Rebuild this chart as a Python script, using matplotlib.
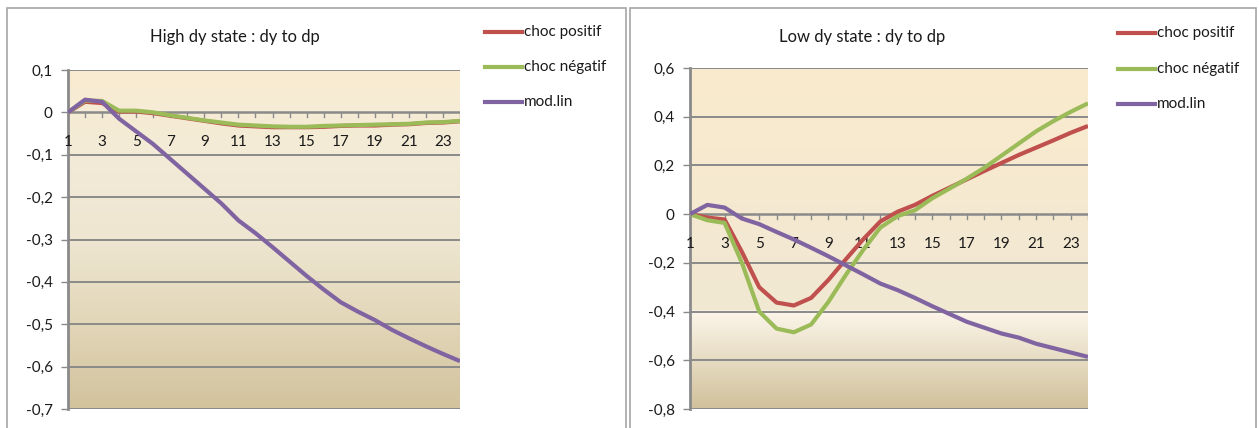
import matplotlib
matplotlib.use("Agg")
import matplotlib.pyplot as plt
import numpy as np
from matplotlib.colors import LinearSegmentedColormap
from matplotlib.patches import Rectangle
from matplotlib.lines import Line2D

plt.rcParams['font.family'] = ['Lato', 'DejaVu Sans']

periods = list(range(1, 25))

high_pos = [0, 0.025, 0.022, 0.002, 0.002, -0.002, -0.008, -0.014, -0.02, -0.026, -0.031, -0.033,
            -0.035, -0.035, -0.035, -0.034, -0.032, -0.031, -0.031, -0.029, -0.028, -0.025, -0.024, -0.021]
high_neg = [0, 0.028, 0.027, 0.004, 0.004, 0.0, -0.007, -0.013, -0.019, -0.024, -0.029, -0.031,
            -0.033, -0.034, -0.034, -0.032, -0.031, -0.030, -0.029, -0.028, -0.027, -0.024, -0.023, -0.020]
high_lin = [0, 0.03, 0.025, -0.015, -0.045, -0.075, -0.11, -0.145, -0.18, -0.215, -0.255, -0.285,
            -0.318, -0.352, -0.386, -0.418, -0.448, -0.47, -0.49, -0.513, -0.533, -0.552, -0.57, -0.587]

low_pos = [0, -0.014, -0.022, -0.155, -0.30, -0.363, -0.375, -0.344, -0.27, -0.186, -0.104, -0.03,
           0.01, 0.038, 0.075, 0.109, 0.143, 0.177, 0.21, 0.243, 0.273, 0.303, 0.334, 0.362]
low_neg = [0, -0.025, -0.036, -0.2, -0.40, -0.47, -0.485, -0.453, -0.36, -0.25, -0.148, -0.055,
           -0.008, 0.016, 0.065, 0.105, 0.146, 0.19, 0.24, 0.29, 0.34, 0.382, 0.42, 0.455]
low_lin = [0, 0.038, 0.027, -0.018, -0.041, -0.073, -0.104, -0.138, -0.173, -0.21, -0.247, -0.285,
           -0.312, -0.344, -0.378, -0.41, -0.442, -0.466, -0.49, -0.507, -0.532, -0.55, -0.568, -0.586]

series_names = ['choc positif', 'choc négatif', 'mod.lin']
colors = ['#C0504D', '#9BBB59', '#8064A2']

W, H = 1259, 428
fig = plt.figure(figsize=(W / 100, H / 100), dpi=100)
fig.patch.set_facecolor('white')

# chart frames (bottom edge cut off by the picture)
for x0, x1 in [(7, 626), (630, 1256)]:
    fig.patches.append(Rectangle((x0 / W, -0.05), (x1 - x0) / W, 1 - 8 / H + 0.05,
                                 transform=fig.transFigure, fill=False, edgecolor='#A6A6A6', lw=1.2))


def draw(box, title, data, ylim, ystep, grad, title_x, leg_x, leg_y):
    l, t, r, b = box
    ax = fig.add_axes([l / W, 1 - b / H, (r - l) / W, (b - t) / H])
    cmap = LinearSegmentedColormap.from_list('bg', grad)
    ax.imshow(np.linspace(0, 1, 600).reshape(-1, 1), cmap=cmap, aspect='auto',
              extent=[1, 24, ylim[0], ylim[1]], origin='upper', zorder=0)
    ax.set_xlim(1, 24)
    ax.set_ylim(*ylim)
    yt = np.round(np.arange(ylim[0], ylim[1] + 1e-9, ystep), 2)
    for v in yt:
        if abs(v) > 1e-9:
            ax.axhline(v, color='#8A8A8A', lw=1.4, zorder=1)
    ax.axhline(0, color='#8A8A8A', lw=1.8, zorder=1)
    for p in periods[1:]:
        ax.plot([p, p], [0, -(ylim[1] - ylim[0]) * 0.014], color='#8A8A8A', lw=1, zorder=1)
    for p in periods[::2]:
        ax.text(p, -(ylim[1] - ylim[0]) * 0.088, str(p), ha='center', va='center',
                fontsize=11, color='#1a1a1a')
    for vals, c in zip(data, colors):
        ax.plot(periods, vals, color=c, lw=3, zorder=3, solid_capstyle='butt')
    ax.set_yticks(yt)
    ax.set_yticklabels([('%.1f' % v).replace('.', ',') if abs(v) > 1e-9 else '0' for v in yt],
                       fontsize=11, color='#1a1a1a')
    ax.set_xticks([])
    for s in ['top', 'right', 'bottom']:
        ax.spines[s].set_visible(False)
    ax.spines['left'].set_color('#8A8A8A')
    ax.spines['left'].set_linewidth(2)
    ax.tick_params(axis='y', length=5, color='#8A8A8A', width=1, pad=6)
    fig.text(title_x / W, 1 - 37 / H, title, ha='center', va='center', fontsize=12, color='#1a1a1a')
    for i, (name, c) in enumerate(zip(series_names, colors)):
        yy = 1 - leg_y[i] / H
        fig.lines.append(Line2D([leg_x / W, (leg_x + 37) / W], [yy, yy], color=c, lw=3,
                                transform=fig.transFigure))
        fig.text((leg_x + 39) / W, yy, name, ha='left', va='center', fontsize=11, color='#1a1a1a')


grad_left = ['#F9ECD2', '#F3EBD7', '#EEE6D1', '#E2D6B8', '#D2C39D']
grad_right = [(0, '#FAEBCD'), (0.71, '#F1E8D3'), (0.715, '#FCF6EA'), (1, '#D1C19B')]

draw((68, 70, 460, 409), 'High dy state : dy to dp', [high_pos, high_neg, high_lin],
     (-0.7, 0.1), 0.1, grad_left, 235, 485, [32, 67, 102])
draw((690, 68, 1088, 409), 'Low dy state : dy to dp', [low_pos, low_neg, low_lin],
     (-0.8, 0.6), 0.2, grad_right, 862, 1118, [33, 69, 104])

fig.savefig('out.png', dpi=100)
